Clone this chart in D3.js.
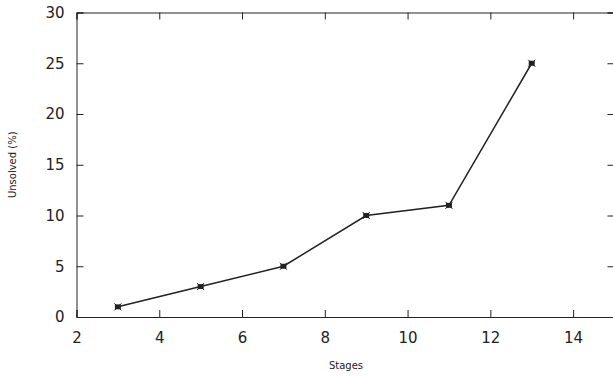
<!DOCTYPE html>
<html><head><meta charset="utf-8">
<script src="https://cdn.jsdelivr.net/npm/d3@7"></script>
<style>body{margin:0;background:#fff}svg{display:block}</style>
</head><body>
<svg id="c" width="613" height="377"></svg>
<script>
const stages = [3, 5, 7, 9, 11, 13];
const unsolved = [1, 3, 5, 10, 11, 25];
const xTicks = [2, 4, 6, 8, 10, 12, 14];
const yTicks = [0, 5, 10, 15, 20, 25, 30];

(function () {
const svg = d3.select("#c");
const pL = 76.5, pR = 614.5, pT = 12.5, pB = 317;
const x = d3.scaleLinear().domain([2, 15]).range([pL, pR]);
const y = d3.scaleLinear().domain([0, 30]).range([pB, pT]);
const font = "DejaVu Sans, sans-serif";
const col = "#222";

const tl = 7;
const gx = svg.append("g").attr("transform", `translate(0,${pB})`)
  .call(d3.axisBottom(x).tickValues(xTicks).tickSize(-tl).tickPadding(15).tickFormat(d3.format("d")));
const gxt = svg.append("g").attr("transform", `translate(0,${pT})`)
  .call(d3.axisTop(x).tickValues(xTicks).tickSize(-tl).tickFormat(""));
const gy = svg.append("g").attr("transform", `translate(${pL},0)`)
  .call(d3.axisLeft(y).tickValues(yTicks).tickSize(-tl).tickPadding(12).tickFormat(d3.format("d")));
const gyr = svg.append("g").attr("transform", `translate(${pR},0)`)
  .call(d3.axisRight(y).tickValues(yTicks).tickSize(-tl).tickFormat(""));
[gx, gxt, gy, gyr].forEach(g => {
  g.select(".domain").attr("stroke", col).attr("stroke-width", 1);
  g.selectAll(".tick line").attr("stroke", col).attr("stroke-width", 1);
  g.selectAll(".tick text").attr("font-family", font).attr("font-size", 15).attr("fill", col);
});

svg.append("text").attr("x", 346).attr("y", 369)
  .attr("text-anchor", "middle").attr("font-family", font).attr("font-size", 10).attr("fill", col).text("Stages");
svg.append("text").attr("transform", `translate(16,${(pT + pB) / 2}) rotate(-90)`)
  .attr("text-anchor", "middle").attr("font-family", font).attr("font-size", 10).attr("fill", col).text("Unsolved (%)");

const pts = stages.map((s, i) => [s, unsolved[i]]);
svg.append("path").datum(pts)
  .attr("d", d3.line().x(d => x(d[0])).y(d => y(d[1])))
  .attr("fill", "none").attr("stroke", col).attr("stroke-width", 1.5);
const m = svg.append("g").selectAll("g").data(pts).join("g")
  .attr("transform", d => `translate(${x(d[0])},${y(d[1])})`);
m.append("rect").attr("x", -3).attr("y", -2.5).attr("width", 6).attr("height", 5).attr("fill", col);
m.append("path").attr("d", "M-3.5,-3.5L3.5,3.5M-3.5,3.5L3.5,-3.5").attr("stroke", col).attr("stroke-width", 1);
})();
</script>
</body></html>
